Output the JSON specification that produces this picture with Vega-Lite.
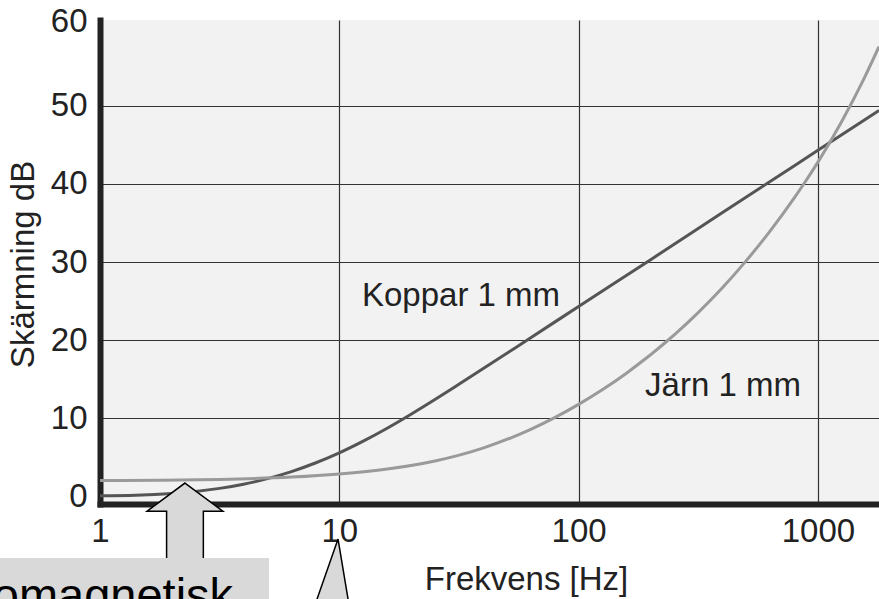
{
  "$schema": "https://vega.github.io/schema/vega-lite/v6.json",
  "width": 779,
  "height": 484,
  "autosize": {"type": "none"},
  "padding": {"left": 100, "top": 20, "right": 0, "bottom": 95},
  "background": "white",
  "config": {
    "view": {"stroke": null, "fill": "#f2f2f2"},
    "font": "Liberation Sans",
    "text": {"font": "Liberation Sans"}
  },
  "datasets": {
    "curves": [
      {"f": 1, "db": 0.05, "s": "Koppar"},
      {"f": 1.41, "db": 0.12, "s": "Koppar"},
      {"f": 2, "db": 0.35, "s": "Koppar"},
      {"f": 2.51, "db": 0.61, "s": "Koppar"},
      {"f": 3.16, "db": 1.0, "s": "Koppar"},
      {"f": 3.98, "db": 1.54, "s": "Koppar"},
      {"f": 5.01, "db": 2.25, "s": "Koppar"},
      {"f": 6.31, "db": 3.15, "s": "Koppar"},
      {"f": 7.94, "db": 4.25, "s": "Koppar"},
      {"f": 10, "db": 5.55, "s": "Koppar"},
      {"f": 12.59, "db": 7.05, "s": "Koppar"},
      {"f": 15.85, "db": 8.71, "s": "Koppar"},
      {"f": 19.95, "db": 10.5, "s": "Koppar"},
      {"f": 25.1, "db": 12.38, "s": "Koppar"},
      {"f": 31.6, "db": 14.33, "s": "Koppar"},
      {"f": 63.1, "db": 20.3, "s": "Koppar"},
      {"f": 100, "db": 24.3, "s": "Koppar"},
      {"f": 200, "db": 30.3, "s": "Koppar"},
      {"f": 398, "db": 36.3, "s": "Koppar"},
      {"f": 1000, "db": 44.3, "s": "Koppar"},
      {"f": 1800, "db": 49.4, "s": "Koppar"},
      {"f": 1, "db": 2.0, "s": "Järn"},
      {"f": 1.78, "db": 2.05, "s": "Järn"},
      {"f": 3.16, "db": 2.15, "s": "Järn"},
      {"f": 6.31, "db": 2.45, "s": "Järn"},
      {"f": 10, "db": 2.85, "s": "Järn"},
      {"f": 15.85, "db": 3.48, "s": "Järn"},
      {"f": 25.1, "db": 4.51, "s": "Järn"},
      {"f": 39.8, "db": 6.16, "s": "Järn"},
      {"f": 63.1, "db": 8.56, "s": "Järn"},
      {"f": 79.4, "db": 10.06, "s": "Järn"},
      {"f": 100, "db": 11.76, "s": "Järn"},
      {"f": 126, "db": 13.66, "s": "Järn"},
      {"f": 158.5, "db": 15.76, "s": "Järn"},
      {"f": 251, "db": 20.66, "s": "Järn"},
      {"f": 316, "db": 23.51, "s": "Järn"},
      {"f": 398, "db": 26.66, "s": "Järn"},
      {"f": 501, "db": 30.14, "s": "Järn"},
      {"f": 631, "db": 33.96, "s": "Järn"},
      {"f": 794, "db": 38.16, "s": "Järn"},
      {"f": 891, "db": 40.41, "s": "Järn"},
      {"f": 1000, "db": 42.79, "s": "Järn"},
      {"f": 1259, "db": 48.04, "s": "Järn"},
      {"f": 1549, "db": 53.34, "s": "Järn"},
      {"f": 1800, "db": 57.6, "s": "Järn"}
    ],
    "labels": [
      {"f": 12.44, "db": 24.4, "t": "Koppar 1 mm"},
      {"f": 189.5, "db": 12.8, "t": "Järn 1 mm"}
    ],
    "arrowUp": [{"f": 2.265, "db": -3.12}],
    "pointer": [{"f": 9.88, "db": -10.61}],
    "box": [{"f": 0.382, "f2": 5.085, "db": -7.92, "db2": -16}],
    "boxText": [{"f": 3.6, "db": -14.71, "t": "omagnetisk"}]
  },
  "layer": [
    {
      "data": {"name": "curves"},
      "mark": {"type": "line", "strokeWidth": 3, "interpolate": "monotone"},
      "encoding": {
        "x": {
          "field": "f", "type": "quantitative",
          "scale": {"type": "log", "domain": [1, 1800], "nice": false},
          "axis": {
            "values": [1, 10, 100, 1000], "format": "d",
            "domainColor": "#222", "domainWidth": 6, "domainCap": "square",
            "ticks": false, "tickSize": 0, "labelPadding": 11,
            "labelFontSize": 33, "labelColor": "#222", "labelFont": "Liberation Sans",
            "labelFlush": false, "labelOverlap": false,
            "gridColor": "#333", "gridWidth": 1.2, "gridOpacity": 1,
            "title": "Frekvens [Hz]", "titleFontSize": 33, "titleFontWeight": "normal",
            "titleFont": "Liberation Sans", "titleColor": "#222",
            "titleX": 426, "titleY": 85, "titleBaseline": "alphabetic", "titleAlign": "center"
          }
        },
        "y": {
          "field": "db", "type": "quantitative",
          "scale": {"domain": [-1, 61], "nice": false, "zero": false},
          "axis": {
            "values": [0, 10, 20, 30, 40, 50, 60],
            "domainColor": "#222", "domainWidth": 6, "domainCap": "square",
            "ticks": false, "tickSize": 0, "labelPadding": 13,
            "labelFontSize": 33, "labelColor": "#222", "labelFont": "Liberation Sans",
            "labelFlush": false, "labelOverlap": false,
            "labelOffset": {"condition": {"test": "datum.value == 60", "value": -6}, "value": 0},
            "gridColor": "#333", "gridWidth": 1.2,
            "gridOpacity": {"condition": {"test": "datum.value == 0 || datum.value == 60", "value": 0}, "value": 1},
            "title": "Skärmning dB", "titleFontSize": 33, "titleFontWeight": "normal",
            "titleFont": "Liberation Sans", "titleColor": "#222",
            "titleAngle": -90, "titleX": -66.5, "titleY": 244,
            "titleBaseline": "alphabetic", "titleAlign": "center"
          }
        },
        "color": {
          "field": "s", "type": "nominal",
          "scale": {"domain": ["Koppar", "Järn"], "range": ["#555555", "#9a9a9a"]},
          "legend": null
        }
      }
    },
    {
      "mark": {"type": "rule", "color": "#222", "strokeWidth": 6, "strokeCap": "square"},
      "encoding": {"y": {"datum": 61}}
    },
    {
      "data": {"name": "labels"},
      "mark": {"type": "text", "align": "left", "baseline": "alphabetic", "fontSize": 33, "color": "#222", "font": "Liberation Sans"},
      "encoding": {
        "x": {"field": "f", "type": "quantitative"},
        "y": {"field": "db", "type": "quantitative"},
        "text": {"field": "t"}
      }
    },
    {
      "data": {"name": "arrowUp"},
      "mark": {"type": "point", "shape": "M0,-1L1.01,-0.25L0.49,-0.25L0.49,1.1L-0.49,1.1L-0.49,-0.25L-1.01,-0.25Z", "size": 5625, "filled": true, "fill": "#d9d9d9", "stroke": "#000", "strokeWidth": 1.5, "opacity": 1},
      "encoding": {
        "x": {"field": "f", "type": "quantitative"},
        "y": {"field": "db", "type": "quantitative"}
      }
    },
    {
      "data": {"name": "box"},
      "mark": {"type": "rect", "fill": "#d9d9d9", "opacity": 1},
      "encoding": {
        "x": {"field": "f", "type": "quantitative"},
        "x2": {"field": "f2"},
        "y": {"field": "db", "type": "quantitative"},
        "y2": {"field": "db2"}
      }
    },
    {
      "data": {"name": "boxText"},
      "mark": {"type": "text", "align": "right", "baseline": "alphabetic", "fontSize": 47, "color": "#000", "font": "Liberation Sans"},
      "encoding": {
        "x": {"field": "f", "type": "quantitative"},
        "y": {"field": "db", "type": "quantitative"},
        "text": {"field": "t"}
      }
    },
    {
      "data": {"name": "pointer"},
      "mark": {"type": "point", "shape": "M0,-1L0.333,1L-0.7,1Z", "size": 6400, "filled": true, "fill": "#d9d9d9", "stroke": "#000", "strokeWidth": 1.5, "opacity": 1},
      "encoding": {
        "x": {"field": "f", "type": "quantitative"},
        "y": {"field": "db", "type": "quantitative"}
      }
    }
  ]
}
